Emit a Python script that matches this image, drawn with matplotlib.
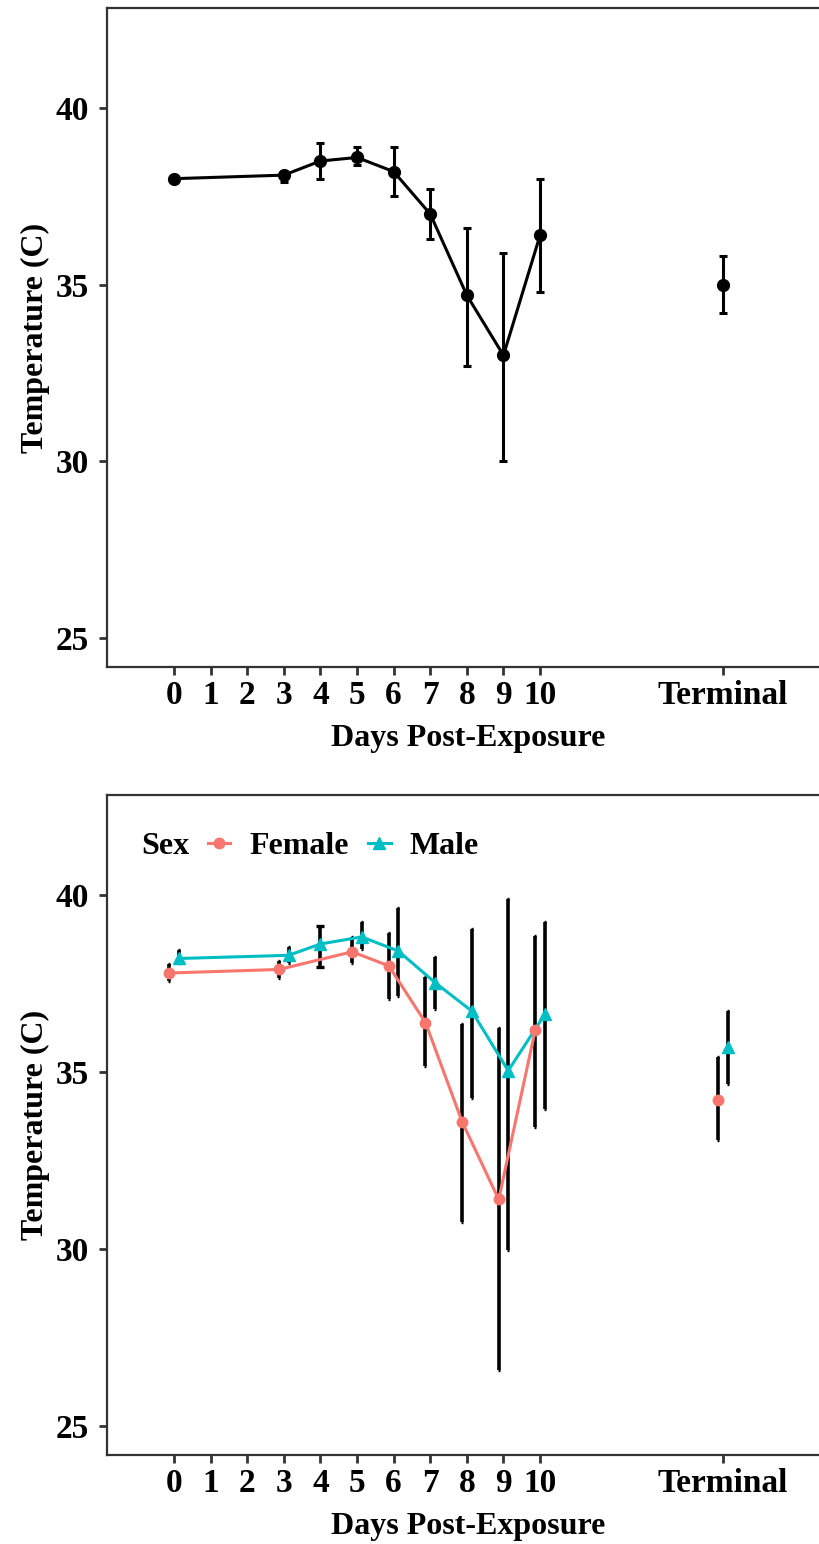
import numpy as np
import matplotlib
matplotlib.use("Agg")
import matplotlib.pyplot as plt
from matplotlib.lines import Line2D

plt.rcParams['font.family'] = ['Liberation Serif', 'DejaVu Serif']
plt.rcParams['font.weight'] = 'bold'

# x axis categories (days) and their positions on the axis
tick_labels = ["0", "1", "2", "3", "4", "5", "6", "7", "8", "9", "10", "Terminal"]
tick_pos = [0, 1, 2, 3, 4, 5, 6, 7, 8, 9, 10, 15]
pos = dict(zip(tick_labels, tick_pos))

# all animals
all_days = ["0", "3", "4", "5", "6", "7", "8", "9", "10", "Terminal"]
all_mean = [38.0, 38.1, 38.5, 38.6, 38.2, 37.0, 34.7, 33.0, 36.4, 35.0]
all_lo = [38.0, 37.9, 38.0, 38.4, 37.5, 36.3, 32.7, 30.0, 34.8, 34.2]
all_hi = [38.0, 38.2, 39.0, 38.9, 38.9, 37.7, 36.6, 35.9, 38.0, 35.8]

# by sex
fem_days = ["0", "3", "5", "6", "7", "8", "9", "10", "Terminal"]
fem_mean = [37.8, 37.9, 38.4, 38.0, 36.4, 33.6, 31.4, 36.2, 34.2]
fem_lo = [37.57, 37.67, 38.07, 37.06, 35.17, 30.77, 26.58, 33.45, 33.08]
fem_hi = [38.05, 38.14, 38.82, 38.93, 37.69, 36.35, 36.25, 38.85, 35.43]

male_days = ["0", "3", "4", "5", "6", "7", "8", "9", "10", "Terminal"]
male_mean = [38.21, 38.30, 38.62, 38.82, 38.42, 37.53, 36.73, 35.04, 36.63, 35.71]
male_lo = [38.07, 38.07, 37.97, 38.47, 37.15, 36.77, 34.27, 29.97, 33.95, 34.66]
male_hi = [38.44, 38.54, 39.12, 39.24, 39.65, 38.24, 39.04, 39.90, 39.24, 36.73]

RED = "#F8766D"
CYAN = "#00BFC4"
W, H = 820, 1544

fig = plt.figure(figsize=(W / 100, H / 100), dpi=100)


def style(ax):
    ax.set_xlim(-1.83, 17.92)
    ax.set_ylim(24.18, 42.83)
    ax.set_xticks(tick_pos)
    ax.set_xticklabels(tick_labels)
    ax.set_yticks([25, 30, 35, 40])
    ax.tick_params(length=6, width=2, color="#333333", labelsize=24)
    ax.tick_params(axis="x", pad=3)
    ax.tick_params(axis="y", pad=7)
    for s in ax.spines.values():
        s.set_color("#333333")
        s.set_linewidth(1.6)
    ax.set_xlabel("Days Post-Exposure", fontsize=23, fontweight="bold", labelpad=10)
    ax.set_ylabel("Temperature (C)", fontsize=23, fontweight="bold", labelpad=4)


# top panel
ax1 = fig.add_axes([107 / W, 1 - 667 / H, 723 / W, 659 / H])
x = np.array([pos[d] for d in all_days])
m = np.array(all_mean)
lo = np.array(all_lo)
hi = np.array(all_hi)
line = x <= 10
ax1.plot(x[line], m[line], color="black", lw=2.2, zorder=2)
ax1.errorbar(x, m, yerr=[m - lo, hi - m], fmt="o", color="black", ms=8.5,
             elinewidth=2.2, capsize=3, capthick=2.2, zorder=3)
style(ax1)

# bottom panel
ax2 = fig.add_axes([107 / W, 1 - 1455 / H, 723 / W, 660 / H])
both = set(fem_days) & set(male_days)


def draw(days, mean, lo, hi, off, color, marker, ms):
    x = np.array([pos[d] + (off if d in both else 0) for d in days])
    m = np.array(mean)
    lo = np.array(lo)
    hi = np.array(hi)
    for xi, mi, l, h, d in zip(x, m, lo, hi, days):
        cs = 3 if d not in both else 0.8
        ax2.errorbar([xi], [mi], yerr=[[mi - l], [h - mi]], fmt="none", ecolor="black",
                     elinewidth=2.6, capsize=cs, capthick=2.4, zorder=2)
    line = x <= 10.5
    ax2.plot(x[line], m[line], color=color, lw=2.2, zorder=3)
    ax2.plot(x, m, ls="none", marker=marker, color=color, ms=ms, zorder=4)


draw(fem_days, fem_mean, fem_lo, fem_hi, -0.13, RED, "o", 7.5)
draw(male_days, male_mean, male_lo, male_hi, 0.13, CYAN, "^", 8.5)
style(ax2)

leg_y = 1 - 51 / 660
ax2.text((141 - 107) / 723, leg_y, "Sex", transform=ax2.transAxes, fontsize=23,
         fontweight="bold", va="center", ha="left")
handles = [Line2D([], [], color=RED, marker="o", lw=2.2, ms=7.5),
           Line2D([], [], color=CYAN, marker="^", lw=2.2, ms=8.5)]
ax2.legend(handles, ["Female", "Male"], loc="center left",
           bbox_to_anchor=((208 - 107) / 723, leg_y), ncol=2, frameon=False,
           prop={"size": 23, "weight": "bold"}, handlelength=0.7, borderpad=0,
           borderaxespad=0, handletextpad=0.6, columnspacing=0.6)

fig.savefig("out.png", dpi=100)
